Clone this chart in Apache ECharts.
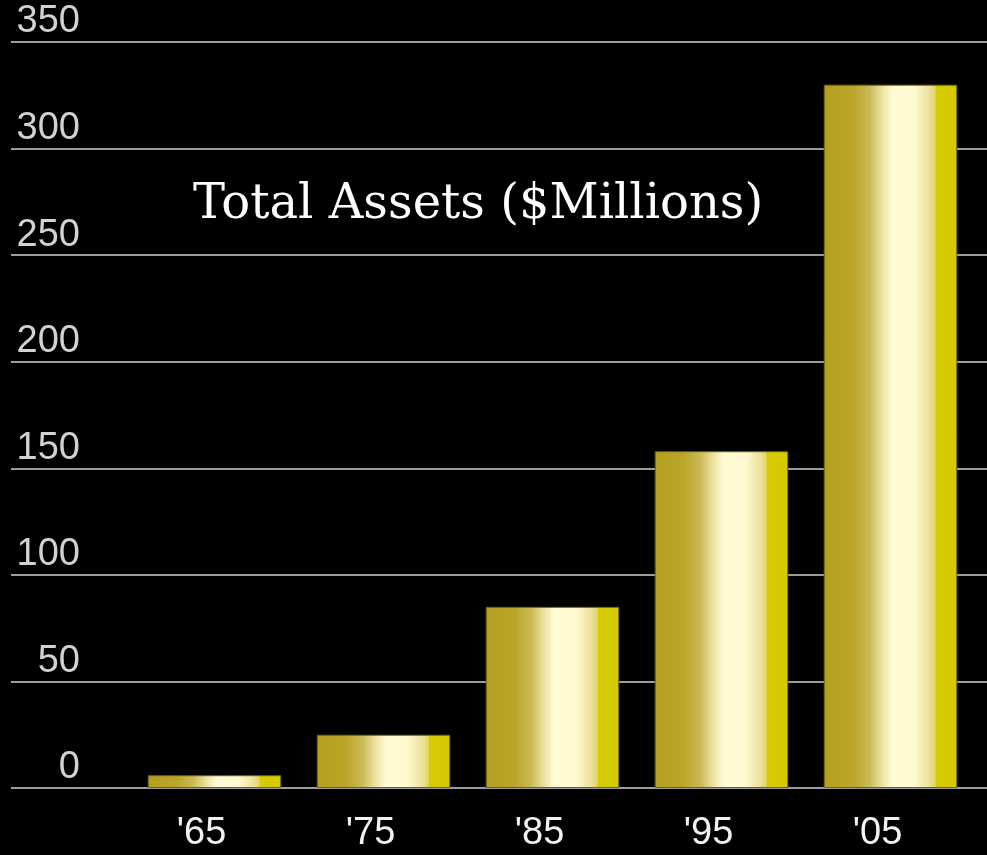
<!DOCTYPE html>
<html>
<head>
<meta charset="utf-8">
<title>Total Assets ($Millions)</title>
<script src="https://cdn.jsdelivr.net/npm/echarts@6/dist/echarts.min.js"></script>
<style>
  html, body { margin: 0; padding: 0; background: #000; }
  #chart { width: 987px; height: 855px; }
</style>
</head>
<body>
<div id="chart"></div>
<script>
// Year labels and total assets in $ millions
const years = ["'65", "'75", "'85", "'95", "'05"];
const assets = [6, 25, 85, 158, 330];
const yMin = 0;
const yMax = 350;
const yStep = 50;
const titleText = 'Total Assets ($Millions)';

// Gold cylinder-like shading across each bar
const goldFill = new echarts.graphic.LinearGradient(0, 0, 1, 0, [
  { offset: 0.00, color: '#b59f1f' },
  { offset: 0.22, color: '#bba62a' },
  { offset: 0.34, color: '#cbb955' },
  { offset: 0.45, color: '#f0e6ac' },
  { offset: 0.52, color: '#fffbd6' },
  { offset: 0.68, color: '#fffad0' },
  { offset: 0.78, color: '#efe3a0' },
  { offset: 0.835, color: '#e4d670' },
  { offset: 0.84, color: '#d7cb04' },
  { offset: 1.00, color: '#d5ca00' }
]);

const chart = echarts.init(document.getElementById('chart'), null, { renderer: 'canvas' });

chart.setOption({
  backgroundColor: '#000000',
  animation: false,
  grid: [
    // full-width grid carrying the horizontal rules and value labels
    { left: 11, right: 0, top: 42, bottom: 67 },
    // narrower grid holding the bars
    { left: 130, right: 12, top: 42, bottom: 67 }
  ],
  xAxis: [
    { type: 'value', gridIndex: 0, show: false, min: 0, max: 1 },
    {
      type: 'category',
      gridIndex: 1,
      data: years,
      axisLine: { show: false },
      axisTick: { show: false },
      axisLabel: {
        color: '#f2f2f2',
        fontFamily: 'Liberation Sans, Arial, sans-serif',
        fontSize: 38,
        margin: 27,
        padding: [0, 26, 0, 0]
      }
    }
  ],
  yAxis: [
    {
      type: 'value',
      gridIndex: 0,
      min: yMin,
      max: yMax,
      interval: yStep,
      axisLine: { show: false },
      axisTick: { show: false },
      splitLine: { show: true, lineStyle: { color: '#9c9c9c', width: 2 } },
      axisLabel: {
        inside: true,
        align: 'right',
        verticalAlign: 'bottom',
        margin: 69,
        lineHeight: 40,
        color: '#d2d2d2',
        fontFamily: 'Liberation Sans, Arial, sans-serif',
        fontSize: 38
      }
    },
    {
      type: 'value',
      gridIndex: 1,
      min: yMin,
      max: yMax,
      interval: yStep,
      show: false,
      splitLine: { show: false }
    }
  ],
  series: [
    {
      type: 'bar',
      xAxisIndex: 1,
      yAxisIndex: 1,
      data: assets,
      barWidth: '79%',
      itemStyle: {
        color: goldFill,
        borderColor: '#6e6410',
        borderWidth: 1
      },
      z: 5
    }
  ],
  graphic: [
    {
      type: 'text',
      left: 193,
      top: 182,
      z: 10,
      style: {
        text: titleText,
        fill: '#ffffff',
        font: '48px "DejaVu Serif", serif'
      }
    }
  ]
});
</script>
</body>
</html>
